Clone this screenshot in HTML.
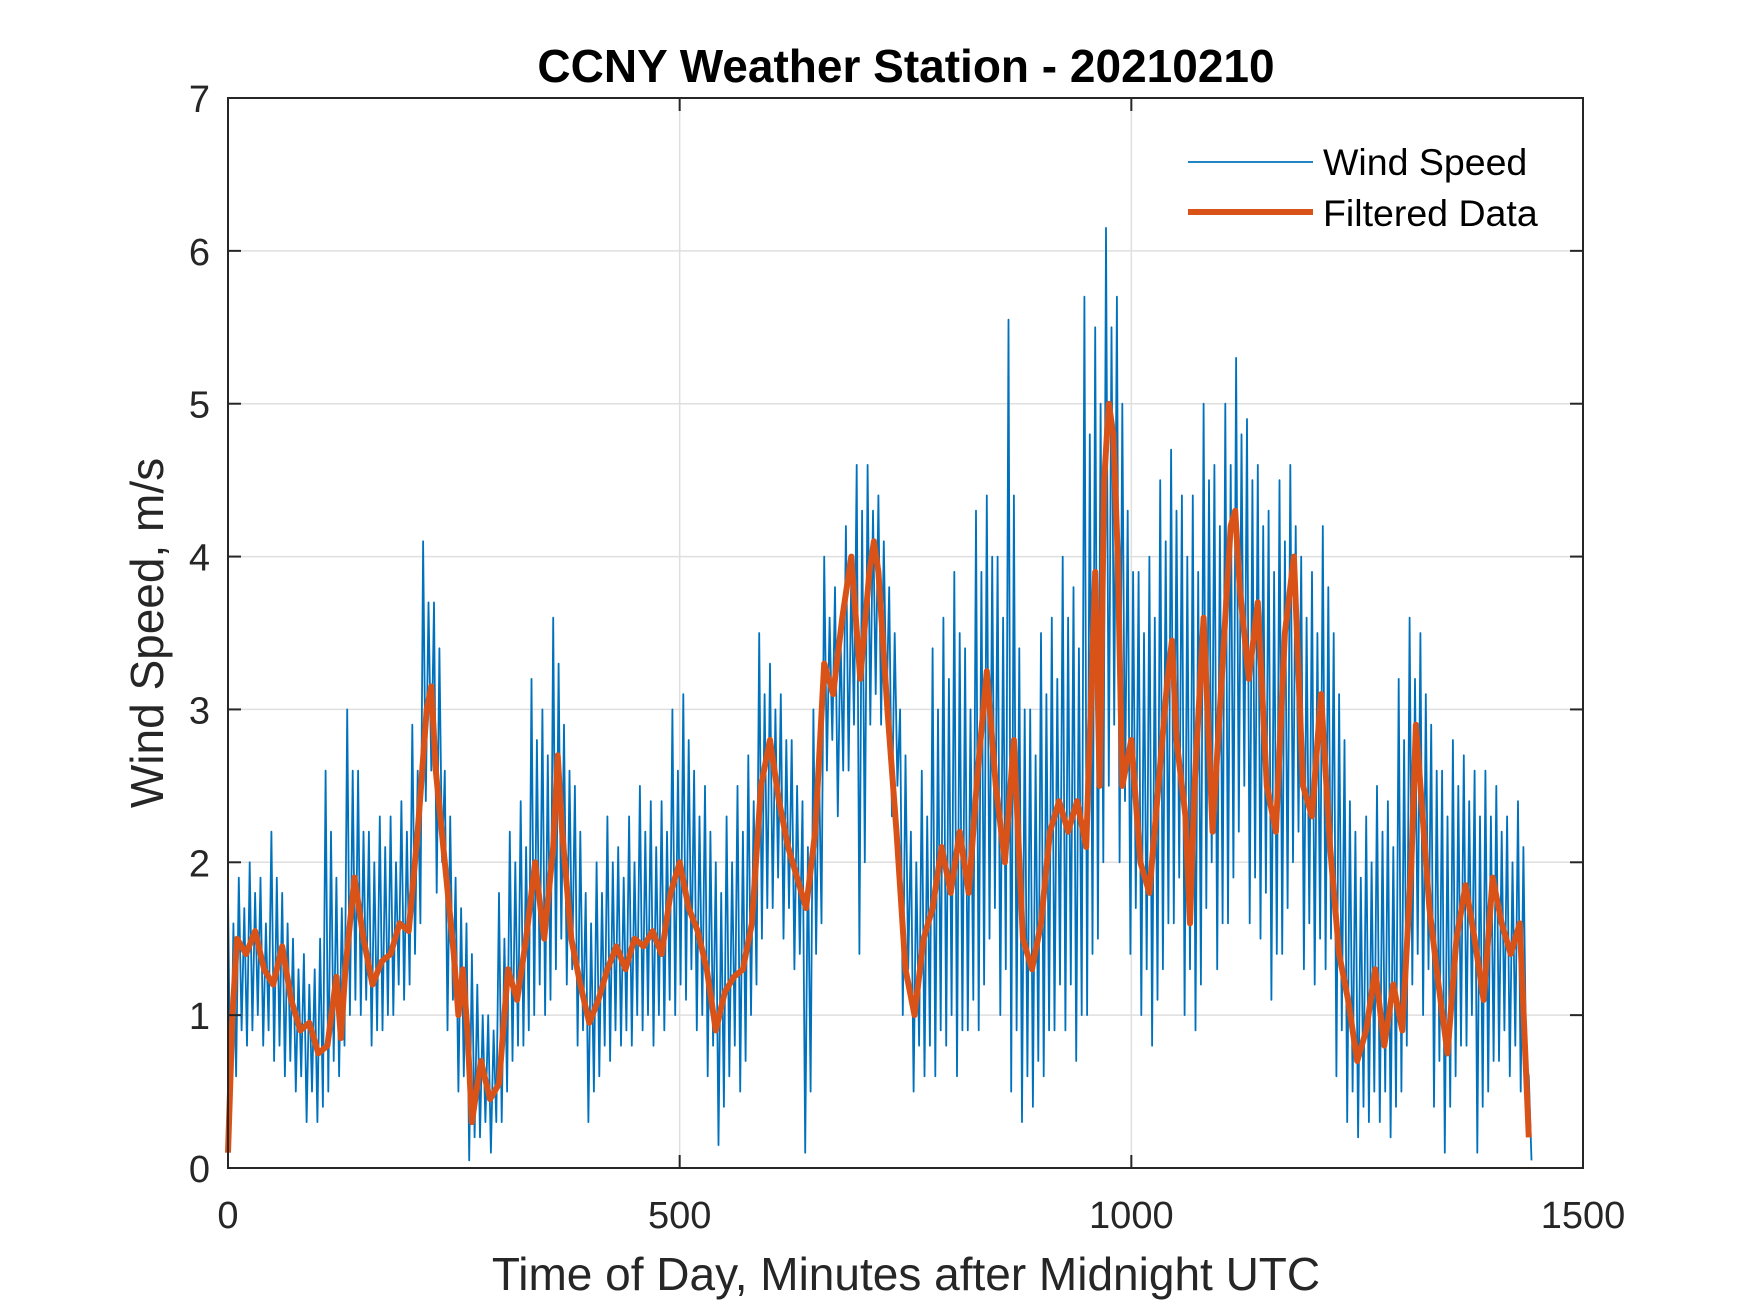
<!DOCTYPE html>
<html><head><meta charset="utf-8"><style>
body{margin:0;background:#fff;}
svg{display:block;font-family:"Liberation Sans",Arial,sans-serif;}
</style></head><body>
<svg id="chart" width="1750" height="1313" viewBox="0 0 1750 1313">
<rect width="1750" height="1313" fill="#fff"/>
<g id="grid"></g>
<g id="plot"></g>
<g id="axes"></g>
<text x="906" y="82" text-anchor="middle" font-size="46" font-weight="bold" fill="#000">CCNY Weather Station - 20210210</text>
<text x="906" y="1290" text-anchor="middle" font-size="46" fill="#262626">Time of Day, Minutes after Midnight UTC</text>
<text transform="translate(163,633) rotate(-90)" text-anchor="middle" font-size="46" fill="#262626">Wind Speed, m/s</text>
<g>
<line x1="1188" y1="162" x2="1313" y2="162" stroke="#0072BD" stroke-width="1.8"/>
<text x="1323" y="175" font-size="37.5" fill="#000">Wind Speed</text>
<line x1="1188" y1="212" x2="1313" y2="212" stroke="#D95319" stroke-width="6"/>
<text x="1323" y="226" font-size="37.5" fill="#000">Filtered Data</text>
</g>
</svg>
<script>
const xTicks=[0,500,1000,1500];
const yTicks=[0,1,2,3,4,5,6,7];
const rawHiLo=[1.8,0.3,1.9,0.9,2.0,0.9,1.9,0.8,2.2,0.7,1.8,0.6,1.5,0.5,1.4,0.3,1.3,0.3,2.6,0.5,1.9,0.6,3.0,1.0,2.6,1.0,2.2,0.8,2.3,0.9,2.3,1.0,2.4,1.1,2.9,1.4,4.1,2.4,3.7,1.8,2.6,0.9,1.9,0.5,1.6,0.05,1.2,0.2,1.0,0.1,1.8,0.3,2.2,0.7,2.4,0.8,3.2,1.0,3.0,1.0,3.6,1.3,2.9,1.2,2.5,0.8,1.8,0.3,2.0,0.6,2.3,0.7,2.1,0.8,2.3,0.8,2.5,0.9,2.4,0.8,2.4,0.9,3.0,1.0,3.1,1.1,2.6,0.9,2.5,0.6,2.0,0.15,2.3,0.6,2.5,0.5,2.7,1.0,3.5,1.5,3.3,1.7,3.1,1.5,2.8,1.3,2.4,0.1,3.0,1.4,4.0,2.6,3.8,2.3,4.2,2.6,4.6,1.4,4.6,2.9,4.4,2.9,3.8,2.3,3.0,1.0,2.2,0.5,2.6,0.6,3.4,0.6,3.6,0.8,3.9,0.6,3.4,0.9,4.3,0.9,4.4,1.5,4.0,1.0,5.55,0.5,3.4,0.3,3.0,0.4,3.5,0.6,3.6,0.9,4.0,0.9,3.8,0.7,5.7,1.0,5.5,1.5,6.15,2.5,5.7,2.0,4.3,1.4,3.9,1.0,4.0,0.8,4.5,1.3,4.7,1.6,4.4,1.0,4.4,0.9,5.0,1.7,4.6,1.3,5.0,1.6,5.3,2.2,4.9,1.6,4.6,1.5,4.3,1.1,4.5,1.4,4.6,2.0,4.0,1.3,3.9,1.2,4.2,1.3,3.5,0.6,2.8,0.3,2.2,0.2,2.3,0.3,2.5,0.3,2.4,0.2,3.2,0.5,3.6,1.2,3.5,1.0,2.9,0.4,2.6,0.1,2.8,0.6,2.7,0.8,2.6,0.1,2.6,0.5,2.5,0.7,2.3,0.6,2.4,0.5,0.6,0.05];
const rawHiLo2=[1.6,0.6,1.7,0.8,1.8,1.0,1.6,0.9,1.9,0.8,1.6,0.7,1.3,0.6,1.2,0.5,1.5,0.4,2.2,0.7,1.7,0.8,2.6,1.1,2.2,1.1,2.0,0.9,2.1,1.0,2.0,1.2,2.2,1.2,2.6,1.6,3.7,2.6,3.4,2.0,2.3,1.1,1.7,0.6,1.4,0.2,1.0,0.3,0.9,0.3,1.5,0.5,2.0,0.8,2.1,0.9,2.8,1.2,2.7,1.1,3.3,1.5,2.6,1.3,2.2,0.9,1.6,0.5,1.8,0.8,2.0,0.9,1.9,0.9,2.0,1.0,2.2,1.0,2.1,1.0,2.2,1.1,2.6,1.2,2.8,1.3,2.3,1.0,2.2,0.8,1.8,0.4,2.0,0.8,2.2,0.7,2.4,1.2,3.1,1.7,3.0,1.9,2.8,1.7,2.5,1.4,2.1,0.5,2.7,1.6,3.6,2.8,3.5,2.6,3.9,2.9,4.3,2.0,4.3,3.1,4.1,3.0,3.5,2.5,2.7,1.3,2.0,0.8,2.3,0.8,3.0,0.9,3.2,1.0,3.5,0.9,3.0,1.1,3.9,1.2,4.0,1.7,3.6,1.3,4.4,0.9,3.0,0.6,2.7,0.7,3.1,0.9,3.2,1.2,3.6,1.2,3.4,1.0,4.8,1.4,5.0,2.0,5.5,2.9,5.0,2.4,3.9,1.7,3.5,1.3,3.6,1.1,4.1,1.6,4.3,1.9,4.0,1.3,3.9,1.2,4.5,2.0,4.2,1.6,4.6,1.9,4.8,2.5,4.5,1.9,4.2,1.8,3.9,1.4,4.1,1.7,4.2,2.2,3.6,1.6,3.5,1.5,3.8,1.5,3.1,0.9,2.4,0.5,1.9,0.4,2.0,0.5,2.2,0.5,2.1,0.4,2.8,0.8,3.2,1.4,3.1,1.3,2.6,0.7,2.3,0.4,2.5,0.8,2.4,1.0,2.3,0.4,2.3,0.7,2.2,0.9,2.0,0.8,2.1,0.7,0.4,0.2];
const rawStep=3;
const filtT=[0,5,10,20,30,40,50,60,70,80,90,100,110,120,125,130,140,150,160,170,180,190,200,210,215,220,225,230,240,250,255,260,265,270,280,290,300,310,320,330,340,350,360,365,370,380,390,400,410,420,430,440,450,460,470,480,490,500,510,520,530,540,550,560,570,580,590,600,610,620,630,640,650,660,670,680,690,700,710,715,720,730,740,750,760,770,780,790,800,810,820,830,840,850,860,870,880,890,900,910,920,930,940,950,960,965,970,975,980,985,990,1000,1010,1020,1030,1040,1045,1050,1060,1065,1070,1080,1090,1100,1110,1115,1120,1130,1140,1150,1160,1170,1180,1190,1200,1210,1220,1230,1240,1250,1260,1270,1280,1290,1300,1310,1315,1320,1330,1340,1350,1360,1370,1380,1390,1400,1410,1420,1430,1440];
const filtV=[0.1,1.0,1.5,1.4,1.55,1.3,1.2,1.45,1.1,0.9,0.95,0.75,0.8,1.25,0.85,1.3,1.9,1.5,1.2,1.35,1.4,1.6,1.55,2.2,2.6,3.0,3.15,2.6,2.0,1.4,1.0,1.3,0.9,0.3,0.7,0.45,0.55,1.3,1.1,1.5,2.0,1.5,2.1,2.7,2.2,1.5,1.2,0.95,1.1,1.3,1.45,1.3,1.5,1.45,1.55,1.4,1.8,2.0,1.7,1.55,1.3,0.9,1.15,1.25,1.3,1.6,2.5,2.8,2.4,2.1,1.9,1.7,2.2,3.3,3.1,3.6,4.0,3.2,3.9,4.1,3.9,3.0,2.2,1.3,1.0,1.5,1.7,2.1,1.8,2.2,1.8,2.6,3.25,2.5,2.0,2.8,1.5,1.3,1.6,2.2,2.4,2.2,2.4,2.1,3.9,2.5,4.5,5.0,4.8,4.0,2.5,2.8,2.0,1.8,2.5,3.2,3.45,2.8,2.3,1.6,2.5,3.6,2.2,3.2,4.2,4.3,3.8,3.2,3.7,2.5,2.2,3.5,4.0,2.5,2.3,3.1,2.1,1.4,1.1,0.7,0.9,1.3,0.8,1.2,0.9,2.0,2.9,2.5,1.7,1.2,0.75,1.5,1.85,1.5,1.1,1.9,1.6,1.4,1.6,0.2];
const L=228,R=1583,T=98,B=1168;
const xs=v=>L+(v-0)/(1500-0)*(R-L);
const ys=v=>B-(v-0)/(7-0)*(B-T);
const NS='http://www.w3.org/2000/svg';
function mk(tag,attrs,parent){const e=document.createElementNS(NS,tag);for(const k in attrs)e.setAttribute(k,attrs[k]);parent.appendChild(e);return e;}
const grid=document.getElementById('grid'),plot=document.getElementById('plot'),axes=document.getElementById('axes');
xTicks.forEach(t=>{
  const g=mk('line',{x1:xs(t),x2:xs(t),y1:T,y2:B,stroke:'#dfdfdf','stroke-width':1.5},grid);
  
  
  const a=mk('line',{x1:xs(t),x2:xs(t),y1:B,y2:B-13,stroke:'#262626','stroke-width':2},axes);
  
  
  const b=mk('line',{x1:xs(t),x2:xs(t),y1:T,y2:T+13,stroke:'#262626','stroke-width':2},axes);
  
  
  const tx=mk('text',{x:xs(t),y:1228,'text-anchor':'middle','font-size':38,fill:'#262626'},axes);
  tx.textContent=t;
  
  
});
yTicks.forEach(t=>{
  const g=mk('line',{x1:L,x2:R,y1:ys(t),y2:ys(t),stroke:'#dfdfdf','stroke-width':1.5},grid);
  
  
  const a=mk('line',{x1:L,x2:L+13,y1:ys(t),y2:ys(t),stroke:'#262626','stroke-width':2},axes);
  
  
  const b=mk('line',{x1:R,x2:R-13,y1:ys(t),y2:ys(t),stroke:'#262626','stroke-width':2},axes);
  
  
  const tx=mk('text',{x:210,y:ys(t)+14,'text-anchor':'end','font-size':38,fill:'#262626'},axes);
  tx.textContent=t;
  
  
});
const box=mk('rect',{x:L,y:T,width:R-L,height:B-T,fill:'none',stroke:'#262626','stroke-width':2},axes);


// merge the two sampled sets pair by pair: hi, lo, hi2, lo2, ...
const rawSeq=[];
for(let p=0;p<rawHiLo.length/2;p++){
  rawSeq.push(rawHiLo[2*p],rawHiLo[2*p+1]);
  if(2*p+1<rawHiLo2.length && p<rawHiLo.length/2-1) rawSeq.push(rawHiLo2[2*p],rawHiLo2[2*p+1]);
}
let d='';
rawSeq.forEach((v,i)=>{d+=(i?'L':'M')+xs(i*rawStep).toFixed(1)+','+ys(v).toFixed(1);});
const raw=mk('path',{d:d,fill:'none',stroke:'#0072BD','stroke-width':1.8,'stroke-linejoin':'round'},plot);


let d2='';
filtT.forEach((t,i)=>{d2+=(i?'L':'M')+xs(t).toFixed(1)+','+ys(filtV[i]).toFixed(1);});
const f=mk('path',{d:d2,fill:'none',stroke:'#D95319','stroke-width':6,'stroke-linejoin':'round'},plot);


</script>
</body></html>
